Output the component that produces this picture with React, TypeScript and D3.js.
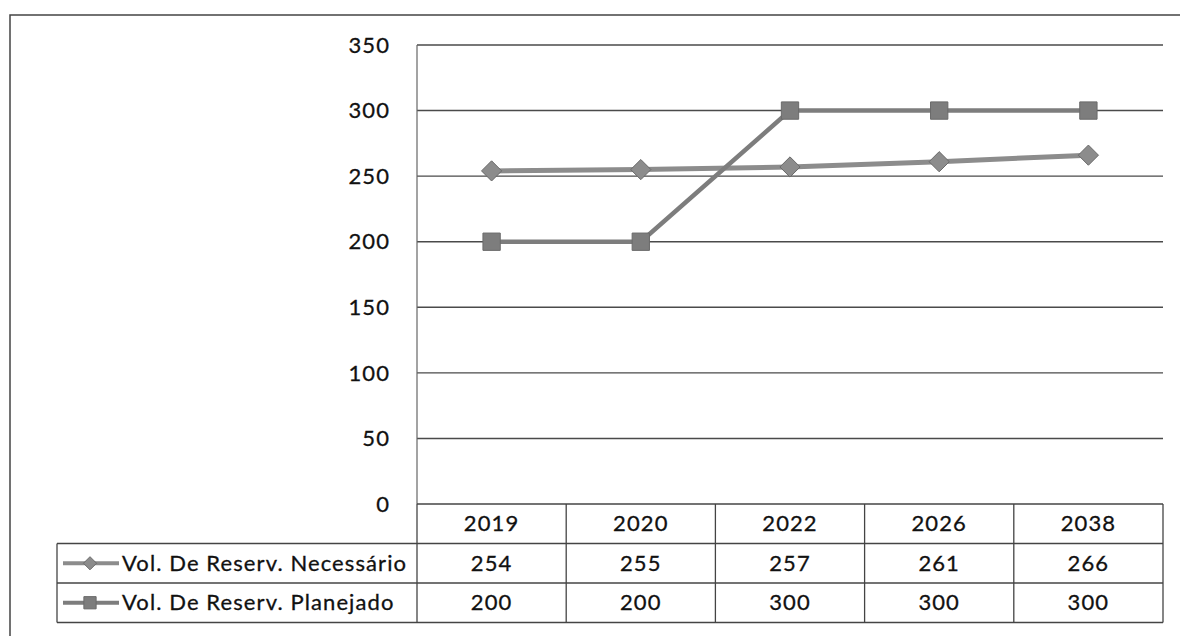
import { useRef, useEffect } from "react";
import * as d3 from "d3";

const years = ["2019", "2020", "2022", "2026", "2038"];
const necessario = [254, 255, 257, 261, 266];
const planejado = [200, 200, 300, 300, 300];
const seriesNames = ["Vol. De Reserv. Necessário", "Vol. De Reserv. Planejado"];
const yTicks = [0, 50, 100, 150, 200, 250, 300, 350];

const W = 1180;
const H = 636;
const FONT = "Lato, 'Open Sans', sans-serif";

export default function App() {
  const ref = useRef<SVGSVGElement | null>(null);

  useEffect(() => {
    const svg = d3.select(ref.current!);
    svg.selectAll("*").remove();

    const left = 417;
    const right = 1163;
    const top = 45;
    const bottom = 504;
    const rowH = 39.5;
    const legendLeft = 57;

    const x = d3.scaleBand<string>().domain(years).range([left, right]);
    const y = d3.scaleLinear().domain([0, 350]).range([bottom, top]);

    // text style shared by every label
    const txt = (sel: any) =>
      sel
        .attr("font-family", FONT)
        .attr("font-size", 22)
        .attr("letter-spacing", 1.1)
        .attr("fill", "#111")
        .attr("stroke", "#111")
        .attr("stroke-width", 0.3);

    // outer frame
    svg.append("path")
      .attr("d", `M10,636 L10,15 L1180,15`)
      .attr("fill", "none")
      .attr("stroke", "#444")
      .attr("stroke-width", 1.5);

    // gridlines
    svg.append("g")
      .selectAll("line")
      .data(yTicks.filter((t) => t > 0))
      .join("line")
      .attr("x1", left)
      .attr("x2", right)
      .attr("y1", (d) => y(d))
      .attr("y2", (d) => y(d))
      .attr("stroke", "#4a4a4a")
      .attr("stroke-width", 1.4);

    // left axis line
    svg.append("line")
      .attr("x1", left).attr("x2", left)
      .attr("y1", top).attr("y2", bottom)
      .attr("stroke", "#666").attr("stroke-width", 1.2);

    // y tick labels
    svg.append("g")
      .selectAll("text")
      .data(yTicks)
      .join("text")
      .attr("x", 390)
      .attr("y", (d) => y(d))
      .attr("dy", "0.35em")
      .attr("text-anchor", "end")
      .call(txt)
      .text((d) => d);

    // data table grid
    const tbl = svg.append("g").attr("stroke", "#444").attr("stroke-width", 1.3).attr("fill", "none");
    for (let i = 0; i <= 3; i++) {
      tbl.append("line")
        .attr("x1", i === 0 ? left : legendLeft)
        .attr("x2", right)
        .attr("y1", bottom + i * rowH)
        .attr("y2", bottom + i * rowH);
    }
    tbl.append("line")
      .attr("x1", legendLeft).attr("x2", legendLeft)
      .attr("y1", bottom + rowH).attr("y2", bottom + 3 * rowH);
    years.forEach((yr) => {
      tbl.append("line")
        .attr("x1", x(yr)!).attr("x2", x(yr)!)
        .attr("y1", bottom).attr("y2", bottom + 3 * rowH);
    });
    tbl.append("line")
      .attr("x1", right).attr("x2", right)
      .attr("y1", bottom).attr("y2", bottom + 3 * rowH);

    // header + values
    const rows = [years, necessario.map(String), planejado.map(String)];
    rows.forEach((row, r) => {
      svg.append("g")
        .selectAll("text")
        .data(row)
        .join("text")
        .attr("x", (_, i) => x(years[i])! + x.bandwidth() / 2)
        .attr("y", bottom + r * rowH + rowH / 2)
        .attr("dy", "0.35em")
        .attr("text-anchor", "middle")
        .call(txt)
        .text((d) => d);
    });

    const colors = ["#8c8c8c", "#7d7d7d"];
    const data = [necessario, planejado];
    const lineGen = d3.line<number>()
      .x((_, i) => x(years[i])! + x.bandwidth() / 2)
      .y((d) => y(d));

    const diamond = d3.symbol().type(d3.symbolDiamond2).size(260);
    const square = d3.symbol().type(d3.symbolSquare).size(300);

    data.forEach((vals, s) => {
      svg.append("path")
        .datum(vals)
        .attr("d", lineGen)
        .attr("fill", "none")
        .attr("stroke", colors[s])
        .attr("stroke-width", s === 0 ? 5 : 4.5);

      svg.append("g")
        .selectAll("path")
        .data(vals)
        .join("path")
        .attr("transform", (d, i) => `translate(${x(years[i])! + x.bandwidth() / 2},${y(d)})`)
        .attr("d", s === 0 ? diamond : square)
        .attr("fill", colors[s])
        .attr("stroke", "#6a6a6a")
        .attr("stroke-width", 1);

      // legend in table
      const cy = bottom + (s + 1) * rowH + rowH / 2;
      svg.append("line")
        .attr("x1", 63).attr("x2", 119)
        .attr("y1", cy).attr("y2", cy)
        .attr("stroke", colors[s])
        .attr("stroke-width", 4);
      svg.append("path")
        .attr("transform", `translate(90,${cy})`)
        .attr("d", s === 0 ? d3.symbol().type(d3.symbolDiamond2).size(110)() : d3.symbol().type(d3.symbolSquare).size(150)())
        .attr("fill", colors[s])
        .attr("stroke", "#6a6a6a")
        .attr("stroke-width", 1);
      svg.append("text")
        .attr("x", 122)
        .attr("y", cy)
        .attr("dy", "0.35em")
        .call(txt)
        .text(seriesNames[s]);
    });
  }, []);

  return (
    <svg
      ref={ref}
      width={W}
      height={H}
      style={{ position: "absolute", left: 0, top: 0, background: "#fff" }}
    ></svg>
  );
}
